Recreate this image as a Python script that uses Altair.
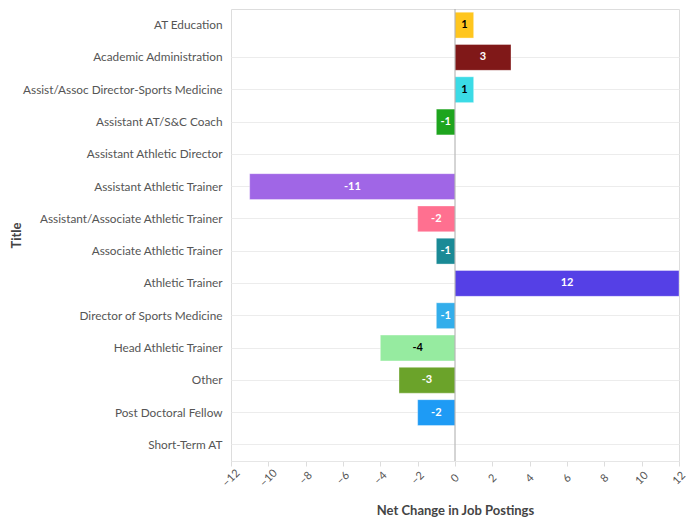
import altair as alt
import pandas as pd

titles = [
    "AT Education",
    "Academic Administration",
    "Assist/Assoc Director-Sports Medicine",
    "Assistant AT/S&C Coach",
    "Assistant Athletic Director",
    "Assistant Athletic Trainer",
    "Assistant/Associate Athletic Trainer",
    "Associate Athletic Trainer",
    "Athletic Trainer",
    "Director of Sports Medicine",
    "Head Athletic Trainer",
    "Other",
    "Post Doctoral Fellow",
    "Short-Term AT",
]
values = [1, 3, 1, -1, 0, -11, -2, -1, 12, -1, -4, -3, -2, 0]
colors = [
    "#FFC61E", "#801818", "#3BDBE6", "#1EA51E", "#9E9E9E", "#A066E6",
    "#FF7090", "#1A8A96", "#5540E6", "#33AEEB", "#96EBA0", "#6BA32A",
    "#1E9BF5", "#9E9E9E",
]
text_colors = [
    "black", "white", "black", "white", "white", "white",
    "white", "white", "white", "white", "black", "white",
    "white", "white",
]
tick_values = [-12, -10, -8, -6, -4, -2, 0, 2, 4, 6, 8, 10, 12]

df = pd.DataFrame({"Title": titles, "Net": values, "color": colors, "tcolor": text_colors})
df["label"] = df["Net"].astype(str)
df["mid"] = df["Net"] / 2
df["zero"] = 0

FONT = "Lato"

y_scale = alt.Scale(paddingInner=0.2, paddingOuter=0.1)
y_axis = alt.Axis(
    domain=False, ticks=False, grid=True,
    gridColor={"condition": {"test": f"datum.value === '{titles[0]}'", "value": "transparent"},
               "value": "#ececec"},
    labelColor="#555555", labelFontSize=11.8, labelPadding=9, labelFont=FONT,
    labelLimit=400,
    titleFont=FONT, titleFontSize=13, titleColor="#444444", titlePadding=8,
)
x_scale = alt.Scale(domain=[-12, 12], nice=False)
x_axis = alt.Axis(
    values=tick_values, grid=False, labelAngle=-45, labelAlign="center",
    labelBaseline="middle", labelPadding=12, labelOverlap=False,
    labelColor="#555555", labelFontSize=11, labelFont=FONT,
    domain=True, domainColor="#e6e6e6",
    tickColor="#dddddd", tickSize=5, titleFont=FONT, titleFontSize=13,
    titleColor="#444444", titlePadding=16,
)
XT = "Net Change in Job Postings"


def X(field):
    return alt.X(field, type="quantitative", title=XT, scale=x_scale, axis=x_axis)


Y = alt.Y("Title:N", sort=titles, title="Title", scale=y_scale, axis=y_axis)

bars = alt.Chart(df).mark_bar(strokeWidth=1, stroke="white", strokeOpacity=0.35).encode(
    x=X("Net"), y=Y, color=alt.Color("color:N", scale=None)
)

text = alt.Chart(df).transform_filter("datum.Net != 0").mark_text(
    font=FONT, fontSize=11, fontWeight="bold"
).encode(
    x=X("mid"),
    y=Y,
    text="label:N",
    color=alt.Color("tcolor:N", scale=None),
)

zero = alt.Chart(df).mark_rule(color="#aaaaaa", strokeWidth=1).encode(
    x=X("zero")
).transform_filter("datum.Title === 'AT Education'")

chart = alt.layer(bars, zero, text).properties(
    width=680, height=510, padding={"left": 2, "top": 0, "right": 0, "bottom": 0},
    autosize=alt.AutoSizeParams(type="fit", contains="padding"),
).configure_view(stroke=None).configure(font=FONT).configure_axisX(labelOverlap=False)

chart.save("out.html", embed_options={"renderer": "svg", "actions": False})
